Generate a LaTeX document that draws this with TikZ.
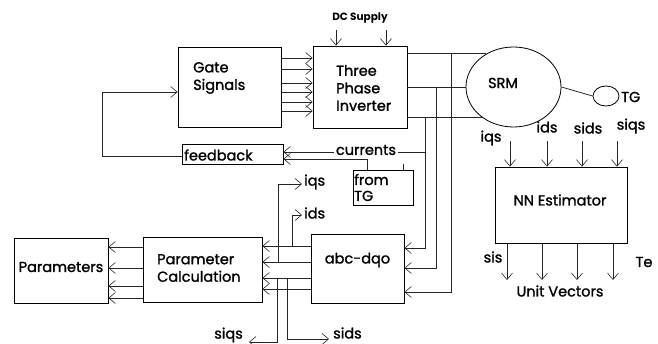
\documentclass[tikz,border=0pt]{standalone}
\usepackage{fontspec}
\setmainfont{Poppins}
\newfontfamily\medfont{Poppins}[FakeBold=1.3]
\usetikzlibrary{arrows.meta,shapes.geometric}
\tikzset{
  box/.style={draw, line width=0.8pt, rectangle, inner sep=0pt},
  oval/.style={draw, line width=0.8pt, ellipse, inner sep=0pt},
  ln/.style={line width=0.8pt, draw=black!85},
  arr/.style={ln, -{Straight Barb[length=6.5pt,width=11pt,line width=0.6pt]}},
  lbl/.style={font=\medfont\fontsize{14.5}{15}\selectfont, inner sep=0pt},
  big/.style={font=\medfont\fontsize{14.5}{17.5}\selectfont, inner sep=0pt, align=left},
}
\begin{document}
\begin{tikzpicture}[x=1pt,y=-1pt]
\useasboundingbox (0,0) rectangle (658,344);
% boxes
\node[box, minimum width=103pt, minimum height=80pt] (gate) at (229.5,87) {};
\node[box, minimum width=94pt, minimum height=82pt] (inv) at (360,87) {};
\node[oval, minimum width=95pt, minimum height=80pt] (srm) at (513.5,87) {};
\node[oval, minimum width=26pt, minimum height=20pt] (tg) at (606,96) {};
\node[box, minimum width=101pt, minimum height=20pt] (fb) at (232.5,154) {};
\node[box, minimum width=60pt, minimum height=35pt] (ftg) at (383,187.5) {};
\node[box, minimum width=93pt, minimum height=69pt] (abc) at (357.5,268.5) {};
\node[box, minimum width=119pt, minimum height=65pt] (pc) at (202.5,269.5) {};
\node[box, minimum width=94pt, minimum height=65pt] (par) at (61,270.5) {};
\node[box, minimum width=132pt, minimum height=76pt] (nn) at (561,205) {};
% texts
\node[big, anchor=west] (tgate) at (193,78) {Gate\\Signals};
\node[big, anchor=west] (tinv) at (336,88) {Three\\Phase\\Inverter};
\node[big] (tsrm) at (503,83) {SRM};
\node[big, anchor=west] (ttg) at (621,97) {TG};
\node[big, anchor=west] (tfb) at (184,155) {feedback};
\node[big, anchor=west, font=\medfont\fontsize{14.5}{16}\selectfont] (tftg) at (354,187.5) {from\\TG};
\node[big] (tabc) at (357.5,260) {abc-dqo};
\node[big, anchor=west] (tpc) at (157,268) {Parameter\\Calculation};
\node[big] (tpar) at (61,267) {Parameters};
\node[big] (tnn) at (560,200) {NN Estimator};
\node[font=\bfseries\fontsize{10.5}{11}\selectfont, inner sep=0pt] (tdc) at (360,18) {DC Supply};
% DC supply arrows
\coordinate (dc1) at (336,30);
\coordinate (dc2) at (386,30);
\draw[arr] (dc1) -- (dc1 |- inv.north);
\draw[arr] (dc2) -- (dc2 |- inv.north);
% gate -> inverter
\foreach \y in {58,69,83,92,102,111}
  \draw[arr] (gate.east |- 0,\y) -- (inv.west |- 0,\y);
% feedback loop
\coordinate (fl1) at (102,156);
\coordinate (fl2) at (102,92);
\draw[arr] (fb.west |- fl1) -- (fl1) -- (fl2) -- (gate.west |- fl2);
% inverter -> SRM
\draw[ln] (inv.east |- srm.129) -- (srm.129);
\draw[ln] (inv.east |- srm.west) -- (srm.west);
\draw[ln] (inv.east |- srm.224) -- (srm.224);
% SRM -> TG
\draw[ln] (srm.east) -- (tg.west);
% vertical lines to abc-dqo
\coordinate (v1) at (451,0);
\coordinate (v2) at (436,0);
\coordinate (v3) at (425,0);
\draw[arr] (v1 |- srm.129) -- (v1 |- 0,292) -- (abc.east |- 0,292);
\draw[arr] (v2 |- srm.west) -- (v2 |- 0,268) -- (abc.east |- 0,268);
\draw[arr] (v3 |- srm.224) -- (v3 |- 0,248) -- (abc.east |- 0,248);
% currents
\draw[arr] (v3 |- 0,152) -- (fb.east |- 0,152);
\node[lbl, fill=white, inner xsep=2pt, inner ysep=1pt] (tcur) at (366,150) {currents};
% from TG -> feedback
\coordinate (ft) at (367,159);
\draw[arr] (ft |- ftg.north) -- (ft) -- (fb.east |- ft);
\coordinate (tick) at (403,164);
\draw[ln] (tick) -- (tick |- ftg.north);
% abc -> parameter calc
\foreach \y in {246,262,278,289}
  \draw[arr] (abc.west |- 0,\y) -- (pc.east |- 0,\y);
% parameter calc -> parameters
\foreach \y in {247,268,286,298}
  \draw[arr] (pc.west |- 0,\y) -- (par.east |- 0,\y);
% branches
\coordinate (iq1) at (278,262);
\coordinate (iq2) at (278,184);
\coordinate (iq3) at (302,184);
\draw[arr] (iq1) -- (iq2) -- (iq3);
\node[lbl, anchor=west] (tiqs) at (304,182) {iqs};
\coordinate (id1) at (292,246);
\coordinate (id2) at (292,215);
\coordinate (id3) at (302,215);
\draw[arr] (id1) -- (id2) -- (id3);
\node[lbl, anchor=west] (tids) at (304,213) {ids};
\coordinate (sq1) at (277,278);
\coordinate (sq2) at (277,342);
\coordinate (sq3) at (249,342);
\draw[arr] (sq1) -- (sq2) -- (sq3);
\node[lbl, anchor=east] (tsiqs) at (243,335) {siqs};
\coordinate (sd1) at (287,278);
\coordinate (sd2) at (287,339);
\coordinate (sd3) at (329,339);
\draw[arr] (sd1) -- (sd2) -- (sd3);
\node[lbl, anchor=west] (tsids) at (333,333) {sids};
% NN inputs
\foreach \x/\n in {510/a,547/b,582/c,617/d} {
  \coordinate (in\n) at (\x,141);
  \draw[arr] (in\n) -- (in\n |- nn.north);
}
\node[lbl] (tniqs) at (491,138) {iqs};
\node[lbl] (tnids) at (547,127) {ids};
\node[lbl] (tnsids) at (588,128) {sids};
\node[lbl] (tnsiqs) at (631,126) {siqs};
% NN outputs
\foreach \x/\n in {507/a,542/b,577/c,613/d} {
  \coordinate (out\n) at (\x,280);
  \draw[arr] (nn.south -| out\n) -- (out\n);
}
\node[lbl] (tsis) at (493,257) {sis};
\node[lbl] (tte) at (644,262) {Te};
\node[lbl] (tuv) at (560,291) {Unit Vectors};
\end{tikzpicture}
\end{document}
